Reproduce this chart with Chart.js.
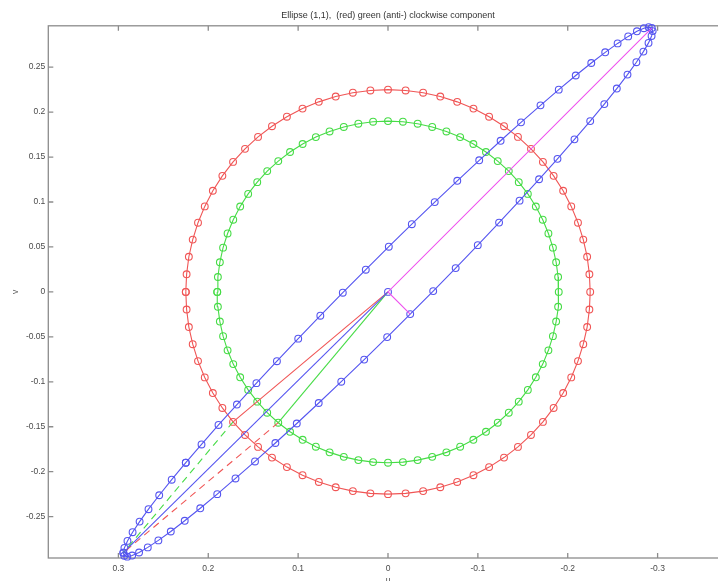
<!DOCTYPE html>
<html><head><meta charset="utf-8">
<script src="https://cdn.jsdelivr.net/npm/chart.js@4"></script>
<style>html,body{margin:0;padding:0;overflow:hidden;background:#fff}canvas{display:block}</style>
</head><body><canvas id="c" width="776" height="590"></canvas>
<script>
const titleText = 'Ellipse (1,1),  (red) green (anti-) clockwise component';
const xTitle = 'u';
const yTitle = 'v';
const xTickValues = [0.3, 0.2, 0.1, 0, -0.1, -0.2, -0.3];
const xTickLabels = ['0.3', '0.2', '0.1', '0', '-0.1', '-0.2', '-0.3'];
const yTickValues = [0.25, 0.2, 0.15, 0.1, 0.05, 0, -0.05, -0.1, -0.15, -0.2, -0.25];
const yTickLabels = ['0.25', '0.2', '0.15', '0.1', '0.05', '0', '-0.05', '-0.1', '-0.15', '-0.2', '-0.25'];

// red (clockwise) circle component
const redX = [0.225, 0.2241, 0.2216, 0.2173, 0.2114, 0.2039, 0.1949, 0.1843, 0.1724, 0.1591, 0.1446, 0.1291, 0.1125, 0.0951, 0.077, 0.0582, 0.0391, 0.0196, 0,
  -0.0196, -0.0391, -0.0582, -0.077, -0.0951, -0.1125, -0.1291, -0.1446, -0.1591, -0.1724, -0.1843, -0.1949, -0.2039, -0.2114, -0.2173, -0.2216, -0.2241, -0.225,
  -0.2241, -0.2216, -0.2173, -0.2114, -0.2039, -0.1949, -0.1843, -0.1724, -0.1591, -0.1446, -0.1291, -0.1125, -0.0951, -0.077, -0.0582, -0.0391, -0.0196, 0,
  0.0196, 0.0391, 0.0582, 0.077, 0.0951, 0.1125, 0.1291, 0.1446, 0.1591, 0.1724, 0.1843, 0.1949, 0.2039, 0.2114, 0.2173, 0.2216, 0.2241, 0.225];
const redY = [0, 0.0196, 0.0391, 0.0582, 0.077, 0.0951, 0.1125, 0.1291, 0.1446, 0.1591, 0.1724, 0.1843, 0.1949, 0.2039, 0.2114, 0.2173, 0.2216, 0.2241, 0.225,
  0.2241, 0.2216, 0.2173, 0.2114, 0.2039, 0.1949, 0.1843, 0.1724, 0.1591, 0.1446, 0.1291, 0.1125, 0.0951, 0.077, 0.0582, 0.0391, 0.0196, 0,
  -0.0196, -0.0391, -0.0582, -0.077, -0.0951, -0.1125, -0.1291, -0.1446, -0.1591, -0.1724, -0.1843, -0.1949, -0.2039, -0.2114, -0.2173, -0.2216, -0.2241, -0.225,
  -0.2241, -0.2216, -0.2173, -0.2114, -0.2039, -0.1949, -0.1843, -0.1724, -0.1591, -0.1446, -0.1291, -0.1125, -0.0951, -0.077, -0.0582, -0.0391, -0.0196, 0];

// green (anti-clockwise) circle component
const greenX = [0.19, 0.1893, 0.1871, 0.1835, 0.1785, 0.1722, 0.1645, 0.1556, 0.1455, 0.1344, 0.1221, 0.109, 0.095, 0.0803, 0.065, 0.0492, 0.033, 0.0166, 0,
  -0.0166, -0.033, -0.0492, -0.065, -0.0803, -0.095, -0.109, -0.1221, -0.1344, -0.1455, -0.1556, -0.1645, -0.1722, -0.1785, -0.1835, -0.1871, -0.1893, -0.19,
  -0.1893, -0.1871, -0.1835, -0.1785, -0.1722, -0.1645, -0.1556, -0.1455, -0.1344, -0.1221, -0.109, -0.095, -0.0803, -0.065, -0.0492, -0.033, -0.0166, 0,
  0.0166, 0.033, 0.0492, 0.065, 0.0803, 0.095, 0.109, 0.1221, 0.1344, 0.1455, 0.1556, 0.1645, 0.1722, 0.1785, 0.1835, 0.1871, 0.1893, 0.19];
const greenY = [0, 0.0166, 0.033, 0.0492, 0.065, 0.0803, 0.095, 0.109, 0.1221, 0.1344, 0.1455, 0.1556, 0.1645, 0.1722, 0.1785, 0.1835, 0.1871, 0.1893, 0.19,
  0.1893, 0.1871, 0.1835, 0.1785, 0.1722, 0.1645, 0.1556, 0.1455, 0.1344, 0.1221, 0.109, 0.095, 0.0803, 0.065, 0.0492, 0.033, 0.0166, 0,
  -0.0166, -0.033, -0.0492, -0.065, -0.0803, -0.095, -0.109, -0.1221, -0.1344, -0.1455, -0.1556, -0.1645, -0.1722, -0.1785, -0.1835, -0.1871, -0.1893, -0.19,
  -0.1893, -0.1871, -0.1835, -0.1785, -0.1722, -0.1645, -0.1556, -0.1455, -0.1344, -0.1221, -0.109, -0.095, -0.0803, -0.065, -0.0492, -0.033, -0.0166, 0];

// blue ellipse (sum of the two components)
const ellipseX = [0.225, 0.2075, 0.1886, 0.1681, 0.1464, 0.1236, 0.0999, 0.0753, 0.0503, 0.0247, -0.0009, -0.0265, -0.052, -0.0771, -0.1015, -0.1253, -0.148, -0.1697, -0.19,
  -0.2089, -0.2262, -0.2417, -0.2555, -0.2673, -0.277, -0.2847, -0.2901, -0.2935, -0.2945, -0.2933, -0.2899, -0.2842, -0.2764, -0.2665, -0.2546, -0.2407, -0.225,
  -0.2075, -0.1886, -0.1681, -0.1464, -0.1236, -0.0999, -0.0753, -0.0503, -0.0247, 0.0009, 0.0265, 0.052, 0.0771, 0.1015, 0.1253, 0.148, 0.1697, 0.19,
  0.2089, 0.2262, 0.2417, 0.2555, 0.2673, 0.277, 0.2847, 0.2901, 0.2935, 0.2945, 0.2933, 0.2899, 0.2842, 0.2764, 0.2665, 0.2546, 0.2407, 0.225];
const ellipseY = [-0.19, -0.1697, -0.148, -0.1253, -0.1015, -0.0771, -0.052, -0.0265, -0.0009, 0.0247, 0.0503, 0.0753, 0.0999, 0.1236, 0.1464, 0.1681, 0.1886, 0.2075, 0.225,
  0.2407, 0.2546, 0.2665, 0.2764, 0.2842, 0.2899, 0.2933, 0.2945, 0.2935, 0.2901, 0.2847, 0.277, 0.2673, 0.2555, 0.2417, 0.2262, 0.2089, 0.19,
  0.1697, 0.148, 0.1253, 0.1015, 0.0771, 0.052, 0.0265, 0.0009, -0.0247, -0.0503, -0.0753, -0.0999, -0.1236, -0.1464, -0.1681, -0.1886, -0.2075, -0.225,
  -0.2407, -0.2546, -0.2665, -0.2764, -0.2842, -0.2899, -0.2933, -0.2945, -0.2935, -0.2901, -0.2847, -0.277, -0.2673, -0.2555, -0.2417, -0.2262, -0.2089, -0.19];

// construction lines
const redSpokeX = [0, 0.1724], redSpokeY = [0, -0.1446];
const greenSpokeX = [0, 0.1221], greenSpokeY = [0, -0.1455];
const blueSpokeX = [0, 0.2945], blueSpokeY = [0, -0.2901];
const greenDashX = [0.1724, 0.2945], greenDashY = [-0.1446, -0.2901];
const redDashX = [0.1221, 0.2945], redDashY = [-0.1455, -0.2901];
const axesX = [-0.0247, 0, -0.2935], axesY = [-0.0247, 0, 0.2935];

const X_MIN = -0.378, X_MAX = 0.378, Y_MIN = -0.296, Y_MAX = 0.296;

const RED = 'rgb(240,85,85)', GREEN = 'rgb(70,220,70)', BLUE = 'rgb(85,85,240)', MAGENTA = 'rgb(238,80,238)';
const FONT = 'Liberation Sans, Arial, Helvetica, sans-serif';

function pts(xs, ys) { return xs.map((x, i) => ({x: x, y: ys[i]})); }
function curve(label, xs, ys, color, extra) {
  return Object.assign({
    label: label, data: pts(xs, ys), showLine: true, borderColor: color, borderWidth: 1.1,
    pointRadius: 3.4, pointBorderColor: color, pointBackgroundColor: 'rgba(0,0,0,0)', pointBorderWidth: 1.1,
    tension: 0, clip: false, fill: false
  }, extra || {});
}

const framePlugin = {
  id: 'frame',
  beforeDatasetsDraw(chart) {
    const {ctx, chartArea: a, scales: {x, y}} = chart;
    ctx.save();
    ctx.strokeStyle = '#8c8c8c';
    ctx.lineWidth = 1.3;
    ctx.strokeRect(a.left, a.top, a.right - a.left, a.bottom - a.top);
    ctx.beginPath();
    xTickValues.forEach(v => {
      const px = x.getPixelForValue(v);
      ctx.moveTo(px, a.bottom); ctx.lineTo(px, a.bottom - 5);
      ctx.moveTo(px, a.top); ctx.lineTo(px, a.top + 5);
    });
    yTickValues.forEach(v => {
      const py = y.getPixelForValue(v);
      ctx.moveTo(a.left, py); ctx.lineTo(a.left + 5, py);
      ctx.moveTo(a.right, py); ctx.lineTo(a.right - 5, py);
    });
    ctx.stroke();
    ctx.restore();
  }
};

function labelFor(values, labels) {
  return v => { const i = values.findIndex(t => Math.abs(t - v) < 1e-9); return i >= 0 ? labels[i] : ''; };
}

new Chart(document.getElementById('c'), {
  type: 'scatter',
  data: {
    datasets: [
      curve('axes', axesX, axesY, MAGENTA, {pointRadius: 0}),
      curve('blue spoke', blueSpokeX, blueSpokeY, BLUE, {pointRadius: [3.4, 3.4]}),
      curve('red spoke', redSpokeX, redSpokeY, RED, {pointRadius: 0}),
      curve('green spoke', greenSpokeX, greenSpokeY, GREEN, {pointRadius: 0}),
      curve('red dashed', redDashX, redDashY, RED, {pointRadius: 0, borderDash: [7, 5]}),
      curve('green dashed', greenDashX, greenDashY, GREEN, {pointRadius: 0, borderDash: [7, 5]}),
      curve('ellipse', ellipseX, ellipseY, BLUE),
      curve('green', greenX, greenY, GREEN),
      curve('red', redX, redY, RED)
    ]
  },
  options: {
    responsive: false, animation: false, devicePixelRatio: 1,
    layout: {padding: 0},
    plugins: {
      legend: {display: false}, tooltip: {enabled: false},
      title: {display: true, text: titleText, color: '#333', font: {family: FONT, size: 9, weight: 'normal'}, padding: {top: 10, bottom: 5}}
    },
    scales: {
      x: {
        type: 'linear', reverse: true, min: X_MIN, max: X_MAX,
        grid: {display: false, drawTicks: false}, border: {display: false},
        afterBuildTicks: s => { s.ticks = xTickValues.map(v => ({value: v})); },
        afterFit: s => { s.height = 590 - 558; },
        ticks: {color: '#4a4a4a', font: {family: FONT, size: 8.5}, padding: 6, maxRotation: 0, autoSkip: false, callback: labelFor(xTickValues, xTickLabels)},
        title: {display: true, text: xTitle, color: '#4a4a4a', font: {family: FONT, size: 8.5}, padding: {top: 0, bottom: 4}}
      },
      y: {
        type: 'linear', min: Y_MIN, max: Y_MAX,
        grid: {display: false, drawTicks: false}, border: {display: false},
        afterBuildTicks: s => { s.ticks = yTickValues.map(v => ({value: v})); },
        afterFit: s => { s.width = 48.3; },
        ticks: {color: '#4a4a4a', font: {family: FONT, size: 8.5}, padding: 3, autoSkip: false, callback: labelFor(yTickValues, yTickLabels)},
        title: {display: true, text: yTitle, color: '#4a4a4a', font: {family: FONT, size: 8.5}, padding: {top: 11, bottom: 0}}
      },
      y2: {
        type: 'linear', position: 'right', display: true,
        grid: {display: false, drawTicks: false}, border: {display: false}, ticks: {display: false},
        afterFit: s => { s.width = 776 - 727.7; }
      }
    }
  },
  plugins: [framePlugin]
});
</script>
</body></html>
